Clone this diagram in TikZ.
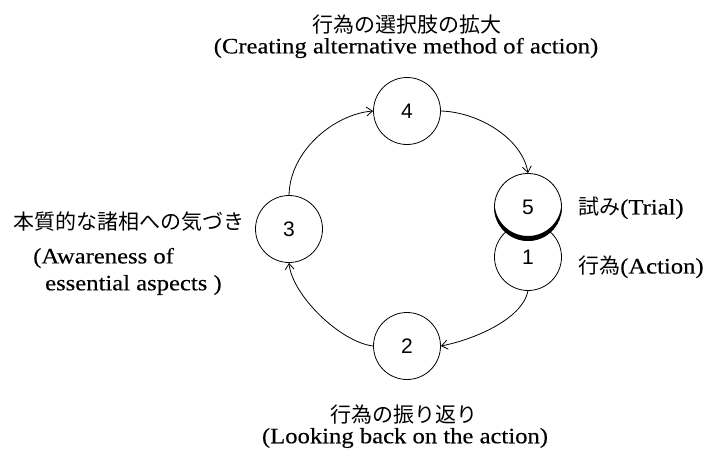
\documentclass[tikz,border=0pt]{standalone}
\usepackage{fontspec}
\setmainfont{Liberation Serif}[FakeStretch=1.12,FakeBold=0.3]
\newfontfamily\jpfont{Noto Sans CJK JP}
\newfontfamily\numfont{Liberation Sans}
\usetikzlibrary{arrows.meta}

\tikzset{
  stage/.style={draw,circle,line width=0.8pt,fill=white,minimum size=67pt,inner sep=0pt,
    font=\numfont\fontsize{21}{21}\selectfont},
  flow/.style={line width=0.8pt,-{Straight Barb[length=6pt,width=9pt]}},
  label/.style={inner sep=0pt,font=\fontsize{22}{26}\selectfont},
  jplabel/.style={inner sep=0pt,font=\jpfont\fontsize{21}{21}\selectfont}
}

\begin{document}
\begin{tikzpicture}[x=1pt,y=1pt,yscale=-1,xscale=1]
\useasboundingbox (0,0) rectangle (705,451);

%Shape: Circles
\node [stage] (s1) at (528,257) {1};
\node [stage] (s5) at (528,207) {5};
\node [stage] (s4) at (407,111) {4};
\node [stage] (s3) at (289,229) {3};
\node [stage] (s2) at (407,346) {2};

%Shape: thick rim under 5
\begin{scope}
\clip (528,207) circle (33.9);
\fill [even odd rule] (528,207) circle (34) (528,202.5) circle (33.5);
\end{scope}

%Curves
\draw [flow] (s1.south) .. controls (522,320) and (472,340) .. (s2.east);
\draw [flow] (s2.west) .. controls (340,342) and (292,295) .. (s3.south);
\draw [flow] (s3.north) .. controls (290,150) and (335,114) .. (s4.west);
\draw [flow] (s4.east) .. controls (478,112) and (522,138) .. (s5.north);

% Text Node
\node [jplabel] (toplabel) at (407,25) {行為の選択肢の拡大};
% Text Node
\node [label] (topeng) at (406,48) {(Creating alternative method of action)};
% Text Node
\node [jplabel,anchor=west] (leftlabel) at (13,222) {本質的な諸相への気づき};
% Text Node
\node [label,anchor=west] (lefteng) at (33,258) {(Awareness of};
% Text Node
\node [label,anchor=west] (lefteng2) at (45,285) {essential aspects )};
% Text Node
\node [label,anchor=west] (trial) at (578,208) {{\jpfont\fontsize{21}{21}\selectfont 試み}(Trial)};
% Text Node
\node [label,anchor=west] (action) at (578,267) {{\jpfont\fontsize{21}{21}\selectfont 行為}(Action)};
% Text Node
\node [jplabel] (botlabel) at (404,415) {行為の振り返り};
% Text Node
\node [label] (boteng) at (405,438) {(Looking back on the action)};

\end{tikzpicture}
\end{document}
